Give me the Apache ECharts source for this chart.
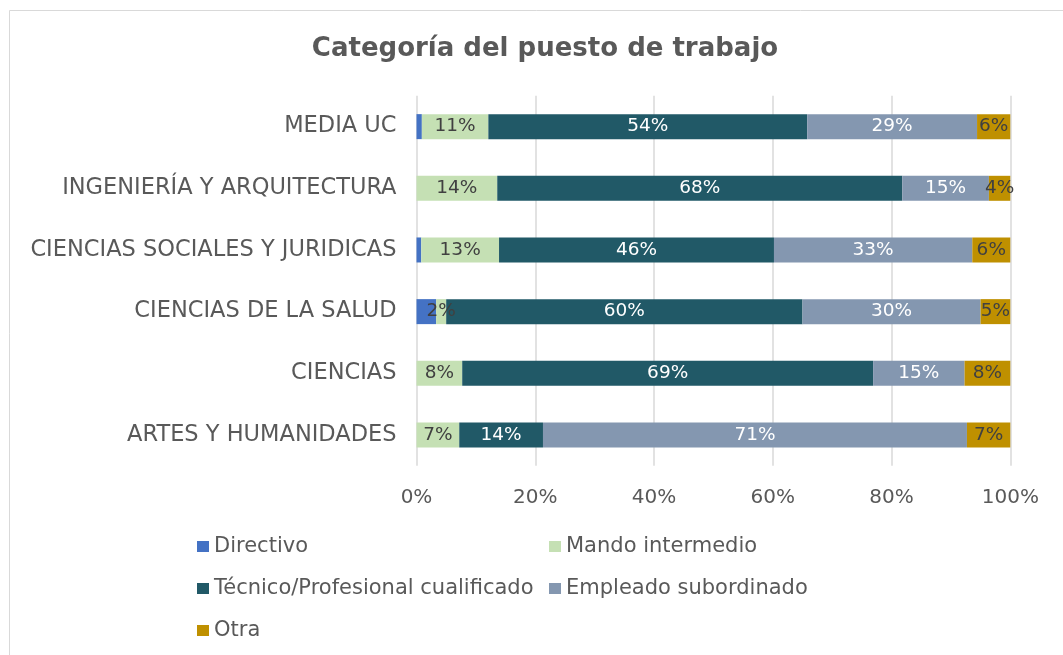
<!DOCTYPE html>
<html>
<head>
<meta charset="utf-8">
<script src="https://cdn.jsdelivr.net/npm/echarts@6/dist/echarts.min.js"></script>
<style>
  html, body { margin: 0; padding: 0; background: #ffffff; }
  #chart { width: 1063px; height: 655px; }
</style>
</head>
<body>
<div id="chart"></div>
<script>
// Categories, bottom to top
const categories = [
  'ARTES Y HUMANIDADES',
  'CIENCIAS',
  'CIENCIAS DE LA SALUD',
  'CIENCIAS SOCIALES Y JURIDICAS',
  'INGENIERÍA Y ARQUITECTURA',
  'MEDIA UC'
];

// Share of each job category (%) per area, same order as categories
const directivo        = [0,    0,    3.3,  0.8,  0,    0.9];
const mandoIntermedio  = [7.2,  7.7,  1.7,  13.1, 13.6, 11.2];
const tecnico          = [14.1, 69.2, 60.0, 46.3, 68.2, 53.7];
const empleado         = [71.4, 15.4, 30.0, 33.4, 14.6, 28.6];
const otra             = [7.3,  7.7,  5.0,  6.4,  3.6,  5.6];

const axisTicks = [0, 20, 40, 60, 80, 100];

const FONT = '"DejaVu Sans", Verdana, sans-serif';
const TEXT = '#595959';

function pctLabel(p) {
  return p.value > 0 ? Math.round(p.value) + '%' : '';
}

function series(name, data, color, labelColor, showLabel) {
  return {
    name: name,
    type: 'bar',
    stack: 'total',
    data: data,
    barWidth: 25,
    itemStyle: { color: color },
    label: {
      show: showLabel,
      position: 'inside',
      formatter: pctLabel,
      color: labelColor,
      fontFamily: FONT,
      fontSize: 18.5
    },
    labelLayout: { hideOverlap: false }
  };
}

function legendAt(name, left, top) {
  return {
    data: [name],
    left: left,
    top: top,
    itemWidth: 12,
    itemHeight: 11,
    icon: 'rect',
    itemGap: 0,
    padding: 0,
    textStyle: { fontFamily: FONT, fontSize: 21, color: TEXT }
  };
}

const chart = echarts.init(document.getElementById('chart'), null, { renderer: 'canvas' });

chart.setOption({
  animation: false,
  backgroundColor: '#ffffff',
  title: {
    text: 'Categoría del puesto de trabajo',
    left: 540,
    textAlign: 'center',
    top: 31,
    textStyle: { fontFamily: FONT, fontSize: 26, fontWeight: 'bold', color: TEXT }
  },
  graphic: [{
    type: 'rect',
    shape: { x: 9.5, y: 10.5, width: 1100, height: 700 },
    style: { fill: 'none', stroke: '#d9d9d9', lineWidth: 1 },
    silent: true
  }],
  grid: { left: 416.5, right: 52.7, top: 95.8, bottom: 189.2, containLabel: false },
  xAxis: {
    type: 'value',
    min: axisTicks[0],
    max: axisTicks[axisTicks.length - 1],
    interval: axisTicks[1] - axisTicks[0],
    axisLine: { show: false },
    axisTick: { show: false },
    axisLabel: {
      formatter: '{value}%',
      fontFamily: FONT, fontSize: 20, color: TEXT, margin: 22
    },
    splitLine: { show: true, lineStyle: { color: '#d9d9d9', width: 1.5 } }
  },
  yAxis: {
    type: 'category',
    data: categories,
    axisLine: { show: false },
    axisTick: { show: false },
    axisLabel: { fontFamily: FONT, fontSize: 22.5, color: TEXT, margin: 20 }
  },
  legend: [
    legendAt('Directivo', 197, 536),
    legendAt('Mando intermedio', 549, 536),
    legendAt('Técnico/Profesional cualificado', 197, 578),
    legendAt('Empleado subordinado', 549, 578),
    legendAt('Otra', 197, 620)
  ],
  series: [
    series('Directivo', directivo, '#4472c4', '#404040', false),
    series('Mando intermedio', mandoIntermedio, '#c5e0b4', '#404040', true),
    series('Técnico/Profesional cualificado', tecnico, '#215967', '#ffffff', true),
    series('Empleado subordinado', empleado, '#8497b0', '#ffffff', true),
    series('Otra', otra, '#bf9000', '#404040', true)
  ]
});
</script>
</body>
</html>
